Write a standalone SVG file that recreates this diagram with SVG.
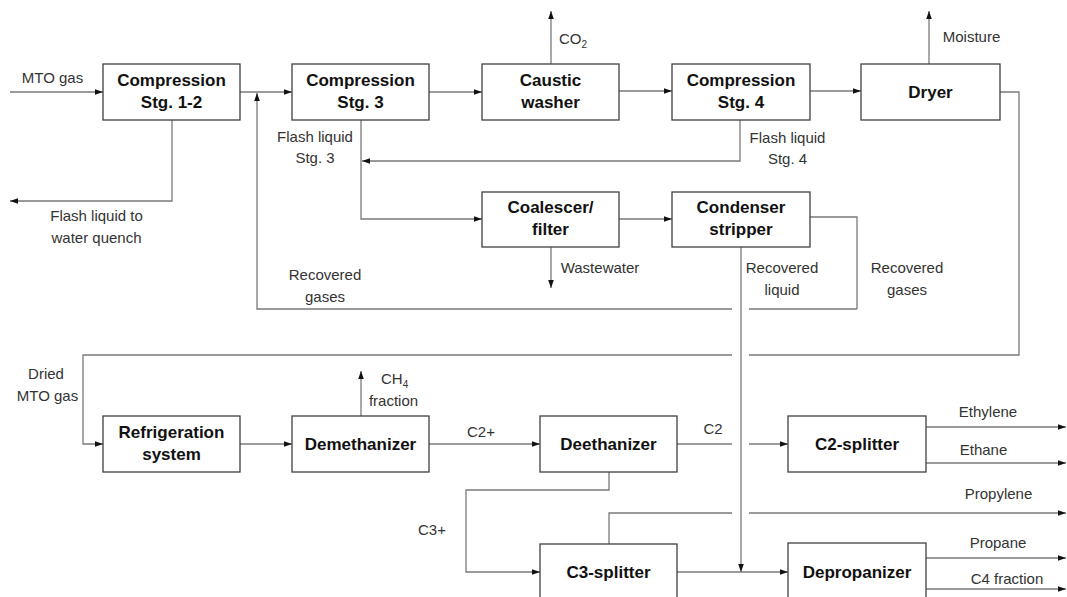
<svg xmlns="http://www.w3.org/2000/svg" width="1067" height="597" viewBox="0 0 1067 597">
  <style>
    .box { fill: #ffffff; stroke: #404040; stroke-width: 1.3; }
    .bt { font-family: "Liberation Sans", Arial, sans-serif; font-weight: bold; font-size: 17px; fill: #111; text-anchor: middle; }
    .lb { font-family: "Liberation Sans", Arial, sans-serif; font-size: 15px; fill: #333; text-anchor: middle; }
    .ln { fill: none; stroke: #7a7a7a; stroke-width: 1.3; }
    .ar { marker-end: url(#arrow); }
  </style>
  <defs>
    <marker id="arrow" markerUnits="userSpaceOnUse" markerWidth="8" markerHeight="8" viewBox="0 0 8 8" refX="8" refY="4" orient="auto">
      <path d="M0,1.2 L8,4 L0,6.8 Z" fill="#111"/>
    </marker>
  </defs>

  <!-- connectors -->
  <g id="connectors">
    <!-- feed and main compression train -->
    <path class="ln ar" d="M10,92 H103"/>
    <path class="ln ar" d="M240,92 H292"/>
    <path class="ln ar" d="M429,92 H482"/>
    <path class="ln ar" d="M619,91 H672"/>
    <path class="ln ar" d="M810,91 H861"/>
    <!-- vents -->
    <path class="ln ar" d="M551,64 V11"/>
    <path class="ln ar" d="M929,64 V11"/>
    <!-- flash liquids -->
    <path class="ln ar" d="M172,120 V201 H10"/>
    <path class="ln ar" d="M740,120 V161 H362"/>
    <path class="ln ar" d="M361,120 V219 H482"/>
    <path class="ln ar" d="M619,219 H672"/>
    <path class="ln ar" d="M551,247 V288"/>
    <!-- recovered gases recycle -->
    <path class="ln" d="M857,309 V217 H810"/>
    <path class="ln" d="M857,309 H749"/>
    <path class="ln ar" d="M732,309 H257 V93"/>
    <!-- recovered liquid -->
    <path class="ln ar" d="M741,247 V572"/>
    <!-- dried MTO gas -->
    <path class="ln" d="M1000,92 H1019 V355 H749"/>
    <path class="ln ar" d="M732,355 H83 V444 H103"/>
    <!-- cold section -->
    <path class="ln ar" d="M240,444 H292"/>
    <path class="ln ar" d="M361,416 V371"/>
    <path class="ln ar" d="M429,444 H540"/>
    <path class="ln" d="M677,444 H732"/>
    <path class="ln ar" d="M749,444 H788"/>
    <path class="ln ar" d="M926,427 H1066"/>
    <path class="ln ar" d="M926,463 H1066"/>
    <path class="ln ar" d="M609,472 V490 H466 V572 H540"/>
    <path class="ln" d="M609,544 V513 H732"/>
    <path class="ln ar" d="M749,513 H1066"/>
    <path class="ln ar" d="M677,572 H788"/>
    <path class="ln ar" d="M926,558 H1066"/>
    <path class="ln ar" d="M926,589 H1066"/>
  </g>

  <!-- stream labels -->
  <g id="labels">
    <text class="lb" x="52.5" y="83">MTO gas</text>
    <text class="lb" x="96.5" y="221">Flash liquid to</text>
    <text class="lb" x="96.5" y="243">water quench</text>
    <text class="lb" x="315" y="142">Flash liquid</text>
    <text class="lb" x="315" y="163">Stg. 3</text>
    <text class="lb" x="787.5" y="143">Flash liquid</text>
    <text class="lb" x="787.5" y="164">Stg. 4</text>
    <text class="lb" x="559" y="44" style="text-anchor:start">CO<tspan font-size="10" dy="4">2</tspan></text>
    <text class="lb" x="971.5" y="42">Moisture</text>
    <text class="lb" x="325" y="280">Recovered</text>
    <text class="lb" x="325" y="302">gases</text>
    <text class="lb" x="600" y="273">Wastewater</text>
    <text class="lb" x="782" y="273">Recovered</text>
    <text class="lb" x="782" y="295">liquid</text>
    <text class="lb" x="907" y="273">Recovered</text>
    <text class="lb" x="907" y="295">gases</text>
    <text class="lb" x="46" y="379">Dried</text>
    <text class="lb" x="47.5" y="401">MTO gas</text>
    <text class="lb" x="381" y="384" style="text-anchor:start">CH<tspan font-size="10" dy="4">4</tspan></text>
    <text class="lb" x="393.5" y="406">fraction</text>
    <text class="lb" x="481" y="437">C2+</text>
    <text class="lb" x="713" y="434">C2</text>
    <text class="lb" x="432" y="535">C3+</text>
    <text class="lb" x="988" y="417">Ethylene</text>
    <text class="lb" x="983.5" y="455">Ethane</text>
    <text class="lb" x="998.5" y="499">Propylene</text>
    <text class="lb" x="998" y="548">Propane</text>
    <text class="lb" x="1007" y="584">C4 fraction</text>
  </g>

  <!-- process units -->
  <g id="comp12">
    <rect class="box" x="103" y="64" width="137" height="56"/>
    <text class="bt" x="171.5" y="86">Compression</text>
    <text class="bt" x="171.5" y="108">Stg. 1-2</text>
  </g>
  <g id="comp3">
    <rect class="box" x="292" y="64" width="137" height="56"/>
    <text class="bt" x="360.5" y="86">Compression</text>
    <text class="bt" x="360.5" y="108">Stg. 3</text>
  </g>
  <g id="caustic">
    <rect class="box" x="482" y="64" width="137" height="56"/>
    <text class="bt" x="550.5" y="86">Caustic</text>
    <text class="bt" x="550.5" y="108">washer</text>
  </g>
  <g id="comp4">
    <rect class="box" x="672" y="64" width="138" height="56"/>
    <text class="bt" x="741" y="86">Compression</text>
    <text class="bt" x="741" y="108">Stg. 4</text>
  </g>
  <g id="dryer">
    <rect class="box" x="861" y="64" width="139" height="56"/>
    <text class="bt" x="930.5" y="98">Dryer</text>
  </g>
  <g id="coalescer">
    <rect class="box" x="482" y="192" width="137" height="55"/>
    <text class="bt" x="550.5" y="213">Coalescer/</text>
    <text class="bt" x="550.5" y="235">filter</text>
  </g>
  <g id="condenser">
    <rect class="box" x="672" y="192" width="138" height="55"/>
    <text class="bt" x="741" y="213">Condenser</text>
    <text class="bt" x="741" y="235">stripper</text>
  </g>
  <g id="refrigeration">
    <rect class="box" x="103" y="416" width="137" height="56"/>
    <text class="bt" x="171.5" y="438">Refrigeration</text>
    <text class="bt" x="171.5" y="460">system</text>
  </g>
  <g id="demethanizer">
    <rect class="box" x="292" y="416" width="137" height="56"/>
    <text class="bt" x="360.5" y="450">Demethanizer</text>
  </g>
  <g id="deethanizer">
    <rect class="box" x="540" y="416" width="137" height="56"/>
    <text class="bt" x="608.5" y="450">Deethanizer</text>
  </g>
  <g id="c2splitter">
    <rect class="box" x="788" y="416" width="138" height="56"/>
    <text class="bt" x="857" y="450">C2-splitter</text>
  </g>
  <g id="c3splitter">
    <rect class="box" x="540" y="544" width="137" height="60"/>
    <text class="bt" x="608.5" y="578">C3-splitter</text>
  </g>
  <g id="depropanizer">
    <rect class="box" x="788" y="543" width="138" height="60"/>
    <text class="bt" x="857" y="578">Depropanizer</text>
  </g>
</svg>
